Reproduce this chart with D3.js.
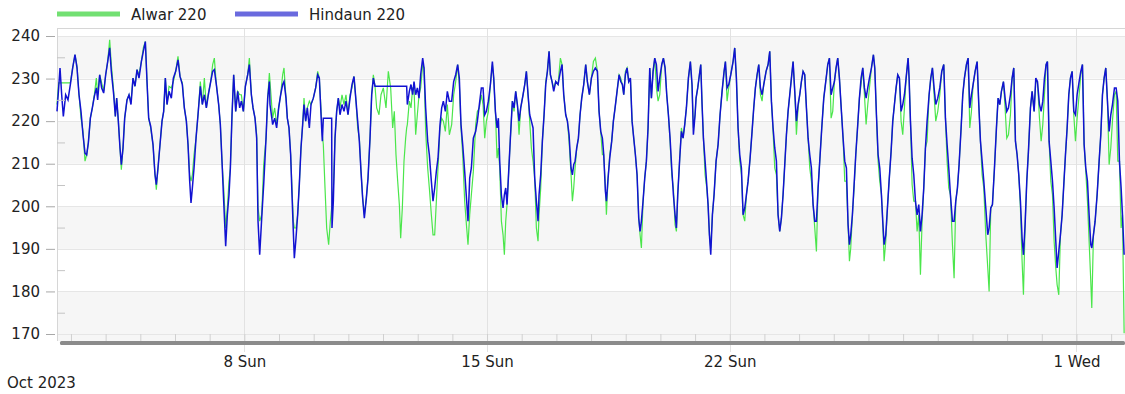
<!DOCTYPE html>
<html>
<head>
<meta charset="utf-8">
<script src="https://cdn.jsdelivr.net/npm/d3@7"></script>
<style>
  html, body { margin: 0; padding: 0; background: #fff; }
  svg { display: block; font-family: "DejaVu Sans", sans-serif; }
</style>
</head>
<body>
<div id="chart"></div>
<script>
const seriesNames = ['Alwar 220', 'Hindaun 220'];
const seriesColors = ['#4be64b', '#1212d2'];
const legendColors = ['#72e072', '#6a6ade'];

// time of each reading, in days since 1 Oct 2023 00:00
const dayOffset = [
  1.597,1.645,1.684,1.732,1.780,1.847,1.914,1.982,
  2.049,2.116,2.174,2.232,2.289,2.347,2.405,2.453,2.501,2.559,
  2.616,2.674,2.732,2.770,2.828,2.885,2.943,3.001,3.059,3.116,
  3.164,3.232,3.280,3.318,3.366,3.414,3.453,3.501,3.549,3.616,
  3.674,3.732,3.789,3.847,3.905,3.962,4.030,4.087,4.145,4.193,
  4.241,4.299,4.366,4.424,4.462,4.510,4.568,4.626,4.674,4.722,
  4.770,4.828,4.895,4.953,5.020,5.087,5.145,5.212,5.270,5.328,
  5.376,5.424,5.462,5.501,5.549,5.607,5.664,5.731,5.789,5.847,
  5.905,5.962,6.030,6.087,6.135,6.193,6.260,6.308,6.356,6.405,
  6.462,6.510,6.558,6.597,6.645,6.693,6.751,6.808,6.866,6.914,
  6.972,7.030,7.097,7.145,7.203,7.251,7.308,7.356,7.395,7.443,
  7.501,7.558,7.626,7.674,7.722,
  7.740,7.817,7.875,7.932,7.990,8.048,8.105,8.144,8.202,8.240,
  8.288,8.336,8.375,8.413,8.442,8.490,8.538,8.586,8.634,8.682,
  8.721,8.769,8.817,8.875,8.923,8.990,9.057,9.115,9.163,9.230,
  9.250,9.278,9.327,9.375,9.432,9.480,9.519,9.528,9.567,9.615,
  9.663,9.711,9.759,9.817,9.875,9.932,9.990,10.048,10.105,10.163,
  10.221,10.269,10.317,10.365,10.413,10.461,10.519,10.567,10.625,10.673,
  10.721,10.769,10.817,10.884,10.942,11.009,11.086,11.153,11.221,11.278,
  11.326,11.374,11.423,11.471,11.509,11.557,11.605,11.653,11.682,11.701,
  11.759,11.807,11.855,11.894,11.942,11.990,12.038,12.086,12.144,12.182,
  12.230,12.288,12.336,12.394,12.442,12.490,12.538,12.586,12.644,12.692,
  12.740,12.798,12.855,12.913,12.980,13.038,13.096,13.153,13.201,13.249,
  13.298,13.355,13.413,13.451,13.500,13.548,13.605,13.673,13.721,13.778,
  13.836,
  13.885,13.933,13.981,14.039,14.097,14.154,14.193,14.241,14.289,14.327,
  14.366,14.414,14.462,14.500,14.539,14.577,14.625,14.673,14.731,14.779,
  14.827,14.875,14.923,14.971,15.039,15.087,15.135,15.183,15.231,15.279,
  15.327,15.375,15.423,15.471,15.500,15.548,15.596,15.645,15.693,15.741,
  15.789,15.827,15.875,15.923,15.981,16.048,16.116,16.164,16.212,16.269,
  16.318,16.366,16.423,16.462,16.500,16.539,16.587,16.635,16.683,16.731,
  16.789,16.846,16.894,16.952,17.010,17.068,17.125,17.183,17.231,17.279,
  17.327,17.366,17.414,17.443,17.491,17.539,17.596,17.644,17.693,17.750,
  17.808,17.856,17.904,17.943,17.991,18.039,18.087,18.135,18.183,18.231,
  18.279,18.327,18.375,18.414,18.452,18.500,18.548,18.596,18.644,18.693,
  18.741,18.789,18.837,18.885,18.933,18.981,19.039,19.087,19.135,19.183,
  19.231,19.279,19.327,19.375,19.423,19.462,19.500,19.558,19.606,19.654,
  19.702,19.750,19.808,19.865,19.913,19.952,20.000,
  20.029,20.077,20.125,20.164,20.202,20.241,20.289,20.337,20.375,20.414,
  20.452,20.500,20.548,20.606,20.664,20.721,20.779,20.837,20.875,20.923,
  20.971,21.029,21.096,21.144,21.192,21.240,21.289,21.337,21.385,21.433,
  21.481,21.529,21.587,21.644,21.692,21.740,21.789,21.837,21.885,21.933,
  21.981,22.048,22.106,22.154,22.202,22.250,22.298,22.346,22.394,22.442,
  22.490,22.538,22.587,22.635,22.683,22.731,22.779,22.827,22.875,22.923,
  22.971,23.019,23.067,23.115,23.163,23.212,23.260,23.308,23.356,23.404,
  23.452,23.500,23.548,23.596,23.654,23.712,23.769,23.827,23.875,23.923,
  23.971,24.019,24.067,24.115,24.163,24.221,24.269,24.317,24.365,24.413,
  24.452,24.490,24.538,24.587,24.635,24.692,24.740,24.788,24.837,24.885,
  24.933,24.981,25.029,25.087,25.144,25.183,25.231,25.279,25.327,25.375,
  25.413,25.452,25.500,25.548,25.596,25.654,25.702,25.750,25.798,25.846,
  25.894,25.942,25.990,26.038,26.087,26.144,
  26.173,26.212,26.260,26.308,26.356,26.404,26.452,26.500,26.548,26.596,
  26.644,26.692,26.750,26.798,26.846,26.894,26.942,27.000,27.058,27.115,
  27.173,27.221,27.269,27.317,27.365,27.423,27.471,27.519,27.567,27.615,
  27.673,27.721,27.769,27.827,27.875,27.923,27.971,28.019,28.077,28.135,
  28.183,28.231,28.279,28.327,28.385,28.442,28.481,28.529,28.577,28.635,
  28.692,28.740,28.788,28.836,28.894,28.942,28.990,29.038,29.096,29.144,
  29.192,29.240,29.288,29.336,29.384,29.432,29.471,29.519,29.567,29.615,
  29.673,29.721,29.779,29.827,29.875,29.933,29.981,30.029,30.077,30.125,
  30.163,30.211,30.260,30.308,30.356,30.404,30.442,30.490,30.538,30.587,
  30.635,30.683,30.731,30.779,30.827,30.875,30.923,30.971,31.019,31.077,
  31.125,31.173,31.221,31.269,31.317,31.365,31.413,31.442,31.490,31.538,
  31.596,31.654,31.702,31.750,31.798,31.846,31.894,31.942,31.990,32.038,
  32.096,32.144,32.192,32.240,32.288,32.327,32.375
];

// Alwar 220 voltage (kV)
const alwar = [
  223.9,229.0,229.0,229.0,229.0,229.0,229.0,229.0,
  232.5,235.6,232.9,226.2,220.7,217.6,210.6,212.1,214.9,220.7,
  223.1,226.2,230.1,226.2,230.9,229.0,227.0,230.9,234.0,239.1,
  233.3,227.0,221.1,225.4,220.0,213.7,208.6,213.7,220.7,225.0,
  226.2,224.7,230.1,228.2,232.1,230.9,234.0,237.2,238.7,229.3,
  220.7,218.4,214.5,207.4,203.9,209.0,214.5,220.0,222.3,230.1,
  223.9,228.2,227.8,229.3,231.7,235.2,230.5,229.0,223.1,220.0,
  214.5,207.4,205.9,207.4,212.1,216.0,221.5,229.3,223.9,230.1,
  223.1,226.6,229.3,233.3,234.8,228.6,223.9,219.2,210.6,204.3,
  194.9,199.6,205.9,209.0,221.5,230.9,222.3,227.0,226.2,226.2,
  222.3,228.2,230.9,234.8,226.2,223.1,220.7,216.8,199.6,196.5,
  198.0,209.8,216.0,225.4,231.3,
  229.3,220.7,223.1,219.2,223.1,226.2,230.9,232.5,225.4,220.7,
  218.4,212.1,204.3,196.5,194.9,194.9,198.0,205.1,213.7,219.2,
  225.4,220.0,223.1,224.7,223.9,225.4,227.8,231.7,230.1,220.0,
  216.8,214.5,204.3,194.9,191.0,196.5,199.6,200.4,204.3,216.0,
  222.3,225.4,223.1,226.2,223.9,226.2,221.5,226.2,227.8,230.5,
  224.7,218.4,216.0,208.2,201.9,198.0,201.9,206.6,216.0,226.2,
  230.9,228.2,223.1,221.5,226.2,227.8,223.1,231.7,227.8,218.4,
  222.3,212.1,205.9,200.4,192.5,199.6,210.6,216.0,218.4,219.2,
  224.7,223.1,227.8,227.8,216.8,221.5,226.2,227.8,233.3,232.5,
  217.6,209.0,204.3,198.0,193.3,193.3,201.2,209.0,218.4,220.7,
  220.0,217.6,223.9,216.8,219.2,226.2,229.3,233.3,228.6,218.4,
  212.1,201.2,194.9,191.0,198.0,202.7,208.2,219.2,222.3,223.1,
  226.2,
  223.9,216.0,220.0,222.3,228.6,233.3,230.1,222.3,211.3,213.7,
  209.0,196.5,193.3,188.6,196.5,200.4,208.2,216.0,224.7,222.3,
  227.0,223.9,216.8,223.1,226.2,228.6,231.7,226.2,220.0,213.7,
  210.6,206.6,194.9,191.8,198.0,204.3,215.3,221.5,229.3,231.7,
  236.4,230.9,229.3,227.8,229.3,228.6,234.8,233.3,226.2,221.5,
  220.0,215.3,207.4,201.2,204.3,209.0,213.7,216.0,221.5,225.4,
  228.6,233.3,229.3,226.2,230.1,234.0,234.8,231.7,222.3,217.6,
  212.1,212.1,204.3,198.0,206.6,212.1,215.3,220.0,223.1,227.0,
  230.9,230.1,228.6,226.2,231.7,232.5,229.3,230.1,220.0,216.0,
  212.1,207.4,197.2,193.3,190.2,201.2,206.6,210.6,218.4,232.5,
  225.4,231.7,234.8,227.8,224.7,226.2,233.3,234.8,232.5,226.2,
  221.5,215.3,207.4,204.3,195.7,194.1,202.7,211.3,218.4,216.0,
  219.2,223.1,230.1,234.0,227.8,218.4,221.5,
  225.4,227.8,230.9,233.3,223.9,216.0,207.4,204.3,200.4,193.3,
  190.2,198.0,202.7,210.6,214.5,221.5,227.0,231.7,234.0,224.7,
  227.8,230.9,234.0,237.2,230.1,218.4,210.6,207.4,198.0,196.5,
  202.7,205.9,211.3,217.6,223.1,227.8,230.9,233.3,226.2,224.7,
  228.6,231.7,233.3,236.4,224.7,217.6,209.0,207.4,198.0,194.1,
  197.2,202.7,209.8,216.8,222.3,226.2,230.1,234.0,227.0,216.8,
  223.1,226.2,229.3,231.7,230.9,223.1,216.0,209.0,205.9,200.4,
  194.9,189.4,204.3,210.6,218.4,225.4,229.3,233.3,234.8,220.7,
  222.3,229.3,232.5,234.8,230.1,222.3,216.0,205.9,205.9,195.7,
  187.1,190.2,198.0,204.3,212.1,219.2,225.4,228.6,232.5,226.2,
  219.2,223.9,227.8,232.5,235.6,232.5,221.5,210.6,205.9,202.7,
  196.5,187.1,191.8,199.6,205.9,212.9,220.0,223.9,227.8,230.9,
  230.1,220.0,216.8,223.1,230.1,234.8,
  230.1,220.0,205.1,201.2,201.2,194.1,198.0,183.9,196.5,204.3,
  213.7,215.3,226.2,230.1,232.5,226.2,220.0,222.3,226.2,231.7,
  233.3,220.7,210.6,204.3,202.7,191.0,183.1,201.2,204.3,209.8,
  218.4,226.2,230.1,233.3,234.8,218.4,222.3,228.6,231.7,234.0,
  223.9,215.3,207.4,204.3,193.3,185.5,180.0,199.6,200.4,209.0,
  218.4,225.4,223.9,227.0,229.3,223.1,216.0,216.8,221.5,230.1,
  232.5,215.3,212.1,207.4,199.6,187.1,179.2,195.7,205.9,212.9,
  223.1,227.0,222.3,229.3,229.3,220.7,215.3,219.2,226.2,233.3,
  234.0,215.3,205.9,202.7,191.8,185.5,181.6,179.2,193.3,198.0,
  205.1,212.1,218.4,226.2,230.1,231.7,221.5,215.3,220.7,226.2,
  230.9,233.3,214.5,208.2,201.2,191.8,182.4,176.1,193.3,196.5,
  202.7,210.6,216.8,226.2,230.1,232.5,224.7,209.8,213.7,220.0,
  226.2,227.0,210.6,210.6,194.9,198.0,170.2
];

// Hindaun 220 voltage (kV)
const hindaun = [
  222.3,227.8,232.5,226.2,221.1,226.2,225.0,228.6,
  232.5,235.6,232.5,226.2,222.3,216.8,212.5,212.1,214.9,220.7,
  223.1,225.8,227.8,225.0,230.9,227.8,226.6,230.9,234.0,237.2,
  231.7,226.2,221.1,225.4,220.0,213.7,209.8,213.7,220.7,225.0,
  226.2,223.9,230.1,228.2,232.1,230.1,234.0,236.4,238.7,229.3,
  220.7,218.8,214.5,207.4,205.1,209.0,214.5,220.0,222.3,230.1,
  223.9,227.0,225.4,230.1,231.7,234.4,230.5,228.6,223.1,220.0,
  214.5,205.9,200.8,204.3,209.0,216.0,221.5,228.2,223.9,226.2,
  223.1,226.2,229.3,231.7,232.1,228.6,223.9,219.2,210.6,201.2,
  190.6,198.0,202.7,209.0,221.5,230.9,222.3,227.0,223.1,224.7,
  222.3,228.2,230.9,233.3,226.2,223.1,220.7,216.0,196.5,188.6,
  197.2,205.1,216.0,225.4,229.3,
  223.9,219.2,220.7,218.4,223.1,226.2,228.6,229.3,225.4,220.7,
  218.4,212.1,202.7,194.1,187.8,192.5,198.0,205.1,213.7,219.2,
  223.9,220.0,223.1,218.4,223.9,225.4,227.8,230.9,230.1,218.4,
  215.3,220.7,220.7,220.7,220.7,220.7,220.7,194.9,201.2,216.0,
  222.3,225.4,221.5,223.9,222.3,224.7,221.5,225.4,228.6,230.5,
  224.7,220.0,215.3,208.2,201.9,197.2,201.9,206.6,216.0,226.2,
  230.1,228.2,228.2,228.2,228.2,228.2,228.2,228.2,228.2,228.2,
  228.2,228.2,228.2,228.2,228.2,228.2,228.2,228.2,228.2,223.9,
  227.0,228.6,226.2,229.3,226.2,227.8,225.4,230.9,234.8,232.5,
  223.1,215.3,212.1,205.9,201.2,204.3,208.2,211.3,219.2,223.1,
  224.7,222.3,227.0,224.7,224.7,229.3,230.9,233.3,230.1,219.2,
  214.5,208.2,201.2,196.5,206.6,209.0,216.0,217.6,220.0,223.9,
  227.8,
  227.8,221.5,222.3,224.7,228.6,234.0,230.1,222.3,218.4,220.7,
  210.6,202.7,199.6,202.7,204.3,200.4,208.2,216.0,224.7,223.1,
  227.0,223.9,220.0,223.1,226.2,228.6,231.7,226.2,221.5,220.0,
  218.4,206.6,201.2,196.5,202.7,207.4,215.3,221.5,228.6,231.7,
  236.4,230.9,229.3,227.0,229.3,228.6,231.7,233.3,226.2,221.5,
  220.0,216.8,209.0,207.4,209.8,210.6,213.7,216.0,221.5,225.4,
  228.6,233.3,229.3,226.2,230.1,231.7,232.5,231.7,222.3,217.6,
  216.0,212.1,203.5,201.2,206.6,211.3,215.3,220.0,223.1,227.0,
  230.9,229.3,228.6,226.2,230.9,232.5,229.3,230.1,220.0,216.0,
  212.1,207.4,197.2,194.1,196.5,201.2,206.6,210.6,218.4,232.5,
  225.4,231.7,234.8,233.3,227.0,230.1,233.3,234.8,232.5,226.2,
  221.5,216.0,209.0,202.7,198.0,194.9,202.7,211.3,217.6,216.0,
  219.2,223.1,230.1,234.0,228.6,216.8,221.5,
  225.4,227.8,230.9,233.3,223.9,216.0,210.6,205.1,200.4,193.3,
  188.6,198.0,202.7,210.6,214.5,221.5,227.0,231.7,234.0,227.8,
  228.6,230.9,234.0,237.2,230.1,218.4,212.1,209.0,198.0,199.6,
  202.7,205.9,211.3,217.6,223.1,227.8,230.9,233.3,227.8,226.2,
  228.6,231.7,233.3,236.4,224.7,218.4,213.7,210.6,198.0,194.1,
  197.2,202.7,209.8,216.8,222.3,226.2,230.1,234.0,227.0,220.0,
  223.9,226.2,229.3,231.7,230.9,223.1,216.0,212.1,209.0,200.4,
  196.5,196.5,204.3,210.6,218.4,225.4,229.3,233.3,234.8,226.2,
  227.8,229.3,232.5,234.8,230.1,222.3,216.0,210.6,209.0,195.7,
  191.0,193.3,198.0,205.1,212.1,219.2,225.4,230.1,232.5,227.8,
  225.4,227.8,230.1,232.5,235.6,232.5,221.5,212.1,209.0,202.7,
  196.5,191.0,193.3,199.6,205.9,212.9,220.0,223.9,227.8,230.9,
  230.1,222.3,223.9,226.2,230.1,234.8,
  230.1,220.0,211.3,207.4,201.2,198.0,200.4,194.1,198.0,204.3,
  213.7,220.0,226.2,230.1,232.5,227.8,223.9,225.4,227.8,231.7,
  233.3,220.7,214.5,209.0,202.7,196.5,196.5,201.2,204.3,209.8,
  218.4,226.2,230.1,233.3,234.8,223.1,226.2,228.6,231.7,234.0,
  223.9,215.3,210.6,205.9,199.6,193.3,194.9,199.6,200.4,209.0,
  218.4,225.4,223.9,227.0,229.3,225.4,222.3,223.1,226.2,230.1,
  232.5,215.3,212.1,207.4,201.2,192.5,188.6,195.7,205.9,212.9,
  223.1,227.0,222.3,230.1,229.3,223.9,222.3,224.7,230.1,233.3,
  234.0,215.3,210.6,205.9,199.6,191.8,185.5,189.4,193.3,198.0,
  205.1,212.1,218.4,226.2,230.1,231.7,222.3,221.5,226.2,229.3,
  231.7,233.3,214.5,209.0,205.9,198.0,191.0,190.2,193.3,196.5,
  202.7,210.6,216.8,226.2,230.1,232.5,224.7,217.6,221.5,223.9,
  227.8,227.8,224.7,210.6,204.3,198.0,188.6
];

const yTicks = [170, 180, 190, 200, 210, 220, 230, 240];
const yMinorTicks = [175, 185, 195, 205, 215, 225, 235];
const labelDays = [7, 14, 21, 31];          // days since 1 Oct
const labelText = ['8 Sun', '15 Sun', '22 Sun', '1 Wed'];
const monthLabel = 'Oct 2023';

const width = 1125, height = 394;
const plot = { left: 57, right: 1125, top: 28, bottom: 341 };
const base = Date.UTC(2023, 9, 1);
const toDate = d => new Date(base + d * 864e5);

const svg = d3.select('#chart').append('svg')
  .attr('width', width)
  .attr('height', height);

const x = d3.scaleUtc()
  .domain([toDate(1.597), toDate(32.40)])
  .range([plot.left, plot.right]);

const y = d3.scaleLinear()
  .domain([170, 240])
  .range([334, 36]);

// alternating bands
svg.append('g').selectAll('rect')
  .data([[y.invert(plot.bottom), 180], [190, 200], [210, 220], [230, 240]])
  .join('rect')
  .attr('x', plot.left)
  .attr('width', plot.right - plot.left)
  .attr('y', d => y(d[1]))
  .attr('height', d => y(d[0]) - y(d[1]))
  .attr('fill', '#f6f6f6');

// horizontal grid
svg.append('g').selectAll('line')
  .data(yTicks)
  .join('line')
  .attr('x1', plot.left).attr('x2', plot.right)
  .attr('y1', d => Math.round(y(d)) + 0.5)
  .attr('y2', d => Math.round(y(d)) + 0.5)
  .attr('stroke', '#e6e6e6');

// vertical grid on labelled days
svg.append('g').selectAll('line')
  .data(labelDays)
  .join('line')
  .attr('x1', d => Math.round(x(toDate(d))) + 0.5)
  .attr('x2', d => Math.round(x(toDate(d))) + 0.5)
  .attr('y1', plot.top).attr('y2', 352)
  .attr('stroke', '#e2e2e2');

// border
svg.append('line')
  .attr('x1', plot.left).attr('x2', plot.right)
  .attr('y1', plot.top + 0.5).attr('y2', plot.top + 0.5)
  .attr('stroke', '#d6d6d6');
svg.append('line')
  .attr('x1', plot.left + 0.5).attr('x2', plot.left + 0.5)
  .attr('y1', plot.top).attr('y2', plot.bottom)
  .attr('stroke', '#d6d6d6');

// series
const rows = dayOffset.map((d, i) => ({ t: toDate(d), a: alwar[i], h: hindaun[i] }));

const lineA = d3.line().x(d => x(d.t)).y(d => y(d.a));
const lineH = d3.line().x(d => x(d.t)).y(d => y(d.h));

svg.append('path')
  .datum(rows)
  .attr('fill', 'none')
  .attr('stroke', seriesColors[0])
  .attr('stroke-width', 1.2)
  .attr('d', lineA);

svg.append('path')
  .datum(rows)
  .attr('fill', 'none')
  .attr('stroke', seriesColors[1])
  .attr('stroke-width', 1.5)
  .attr('d', lineH);

// y axis: major ticks outside, minor inside
const yAxis = svg.append('g')
  .attr('transform', `translate(${plot.left - 2},0)`)
  .call(d3.axisLeft(y).tickValues(yTicks).tickSize(9).tickPadding(6));
yAxis.select('.domain').remove();
yAxis.selectAll('line').attr('stroke', '#a8a8a8');
yAxis.selectAll('text').attr('font-size', 15).attr('fill', '#222')
  .attr('font-family', '"DejaVu Sans", sans-serif');

const yMinor = svg.append('g')
  .attr('transform', `translate(${plot.left},0)`)
  .call(d3.axisLeft(y).tickValues(yMinorTicks).tickSize(-8).tickFormat(''));
yMinor.select('.domain').remove();
yMinor.selectAll('line').attr('stroke', '#c4c4c4');

// daily ticks pointing up into the plot
const days = d3.utcDay.range(toDate(2), toDate(32.4));
const xMinor = svg.append('g')
  .attr('transform', `translate(0,${plot.bottom})`)
  .call(d3.axisTop(x).tickValues(days).tickSize(7).tickFormat(''));
xMinor.select('.domain').remove();
xMinor.selectAll('line').attr('stroke', '#d0d0d0');

// axis bar
svg.append('rect')
  .attr('x', 60).attr('y', plot.bottom)
  .attr('width', plot.right - 60).attr('height', 4)
  .attr('rx', 1.5)
  .attr('fill', '#8b8b8b');

// labelled day ticks
const xAxis = svg.append('g')
  .attr('transform', `translate(0,${plot.bottom})`)
  .call(d3.axisBottom(x)
    .tickValues(labelDays.map(toDate))
    .tickFormat((d, i) => labelText[i])
    .tickSize(0).tickPadding(15));
xAxis.select('.domain').remove();
xAxis.selectAll('text').attr('font-size', 15).attr('fill', '#222')
  .attr('font-family', '"DejaVu Sans", sans-serif');

svg.append('text')
  .attr('x', 7).attr('y', 388)
  .attr('font-size', 15).attr('fill', '#222')
  .text(monthLabel);

// legend
const legend = svg.append('g');
const legendX = [57, 235];
seriesNames.forEach((name, i) => {
  legend.append('line')
    .attr('x1', legendX[i]).attr('x2', legendX[i] + 63)
    .attr('y1', 14).attr('y2', 14)
    .attr('stroke', legendColors[i])
    .attr('stroke-width', 5);
  legend.append('text')
    .attr('x', legendX[i] + 74).attr('y', 20)
    .attr('font-size', 15).attr('fill', '#222')
    .text(name);
});
</script>
</body>
</html>
